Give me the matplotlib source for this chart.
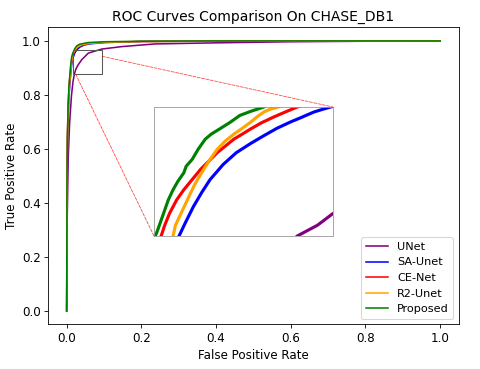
import matplotlib
matplotlib.use("Agg")
import matplotlib.pyplot as plt
from matplotlib.patches import Rectangle, ConnectionPatch

plt.rcParams['font.size'] = 11.4

# ROC points (FPR, TPR)
unet_fpr = [0, 0.001, 0.004, 0.008, 0.013, 0.017, 0.021, 0.0227, 0.024, 0.03, 0.04, 0.058, 0.094, 0.147,
            0.237, 0.4, 0.6, 0.8, 1.0]
unet_tpr = [0, 0.3, 0.56, 0.7, 0.8, 0.85, 0.88, 0.8867, 0.894, 0.91, 0.93, 0.955, 0.97, 0.979,
            0.989, 0.993, 0.997, 0.999, 1.0]

sa_fpr = [0, 0.001, 0.003, 0.006, 0.009, 0.0111, 0.0116, 0.0123, 0.0130, 0.0137, 0.0148, 0.0159, 0.0171,
          0.0182, 0.0193, 0.0204, 0.0214, 0.0224, 0.0231, 0.0238,
          0.028, 0.035, 0.045, 0.06, 0.1, 0.2, 0.4, 1.0]
sa_tpr = [0, 0.45, 0.68, 0.79, 0.85, 0.88, 0.8878, 0.8982, 0.907, 0.915, 0.9244, 0.9317, 0.9374,
          0.9422, 0.9468, 0.9506, 0.9537, 0.9569, 0.9585, 0.96,
          0.968, 0.977, 0.984, 0.989, 0.994, 0.998, 0.9995, 1.0]

ce_fpr = [0, 0.001, 0.002, 0.004, 0.007, 0.0096, 0.0099, 0.0103, 0.0109, 0.0115, 0.0122, 0.0129, 0.0136,
          0.0143, 0.0150, 0.0157, 0.0164, 0.0171, 0.0180, 0.0190, 0.0200, 0.0210,
          0.025, 0.03, 0.04, 0.06, 0.1, 0.2, 0.4, 1.0]
ce_tpr = [0, 0.5, 0.65, 0.77, 0.845, 0.88, 0.8867, 0.894, 0.9024, 0.9087, 0.915, 0.9213, 0.9265,
          0.9317, 0.9359, 0.9401, 0.9432, 0.9464, 0.9502, 0.9537, 0.9569, 0.96,
          0.969, 0.977, 0.985, 0.991, 0.995, 0.998, 0.9995, 1.0]

r2_fpr = [0, 0.001, 0.003, 0.006, 0.0085, 0.0106, 0.0108, 0.0112, 0.0116, 0.0120, 0.0124, 0.0129, 0.0136,
          0.0143, 0.0150, 0.0157, 0.0164, 0.0171, 0.0176, 0.0182, 0.0187, 0.0194,
          0.024, 0.03, 0.04, 0.06, 0.1, 0.2, 0.4, 1.0]
r2_tpr = [0, 0.48, 0.7, 0.8, 0.855, 0.88, 0.8867, 0.893, 0.8993, 0.9056, 0.9118, 0.9181, 0.9265,
          0.9338, 0.9391, 0.9432, 0.9468, 0.9506, 0.9537, 0.9569, 0.9585, 0.96,
          0.971, 0.979, 0.986, 0.991, 0.995, 0.998, 0.9995, 1.0]

prop_fpr = [0, 0.0005, 0.001, 0.002, 0.004, 0.006, 0.008, 0.0092, 0.0095, 0.0099, 0.0102, 0.0106, 0.0110,
            0.0115, 0.0117, 0.0122, 0.0127, 0.0133, 0.0138, 0.0145, 0.0154, 0.0162, 0.0171, 0.0182,
            0.022, 0.027, 0.035, 0.057, 0.1, 0.2, 0.4, 1.0]
prop_tpr = [0, 0.3, 0.5, 0.65, 0.76, 0.83, 0.865, 0.8815, 0.8877, 0.8961, 0.9024, 0.9087, 0.9139,
            0.9192, 0.9233, 0.9275, 0.9338, 0.9401, 0.9432, 0.9464, 0.9506, 0.9548, 0.9573, 0.96,
            0.972, 0.982, 0.988, 0.994, 0.997, 0.999, 1.0, 1.0]

labels = ['UNet', 'SA-Unet', 'CE-Net', 'R2-Unet', 'Proposed']
colors = ['purple', 'blue', 'red', 'orange', 'green']
curves = [(unet_fpr, unet_tpr), (sa_fpr, sa_tpr), (ce_fpr, ce_tpr), (r2_fpr, r2_tpr), (prop_fpr, prop_tpr)]

fig = plt.figure(figsize=(6.4, 4.92), dpi=75)
ax = fig.add_axes([0.1, 0.1206, 0.856, 0.805])

for (x, y), lab, c in zip(curves, labels, colors):
    ax.plot(x, y, color=c, label=lab, linewidth=1.5)

ax.set_title('ROC Curves Comparison On CHASE_DB1', fontsize=13.3)
ax.set_xlabel('False Positive Rate')
ax.set_ylabel('True Positive Rate')
ax.legend(loc='lower right', fontsize=10.8)

# zoomed inset
axins = fig.add_axes([0.3208, 0.3604, 0.373, 0.3496])
for (x, y), c in zip(curves, colors):
    axins.plot(x, y, color=c, linewidth=3.0)
axins.set_xlim(0.009, 0.024)
axins.set_ylim(0.88, 0.96)
axins.set_xticks([])
axins.set_yticks([])
for s in axins.spines.values():
    s.set_edgecolor('0.6')

# marker box in the main plot
ax.add_patch(Rectangle((0.0177, 0.8778), 0.0777, 0.0889, fill=False, edgecolor='0.35', linewidth=1.0, zorder=5))

con1 = ConnectionPatch(xyA=(0.0954, 0.943), coordsA=ax.transData, xyB=(1, 1), coordsB=axins.transAxes,
                       color='red', linestyle='--', linewidth=0.8, alpha=0.7)
con2 = ConnectionPatch(xyA=(0.024, 0.877), coordsA=ax.transData, xyB=(0, 0), coordsB=axins.transAxes,
                       color='red', linestyle='--', linewidth=0.8, alpha=0.7)
fig.add_artist(con1)
fig.add_artist(con2)

plt.savefig('out.png', dpi=75)
